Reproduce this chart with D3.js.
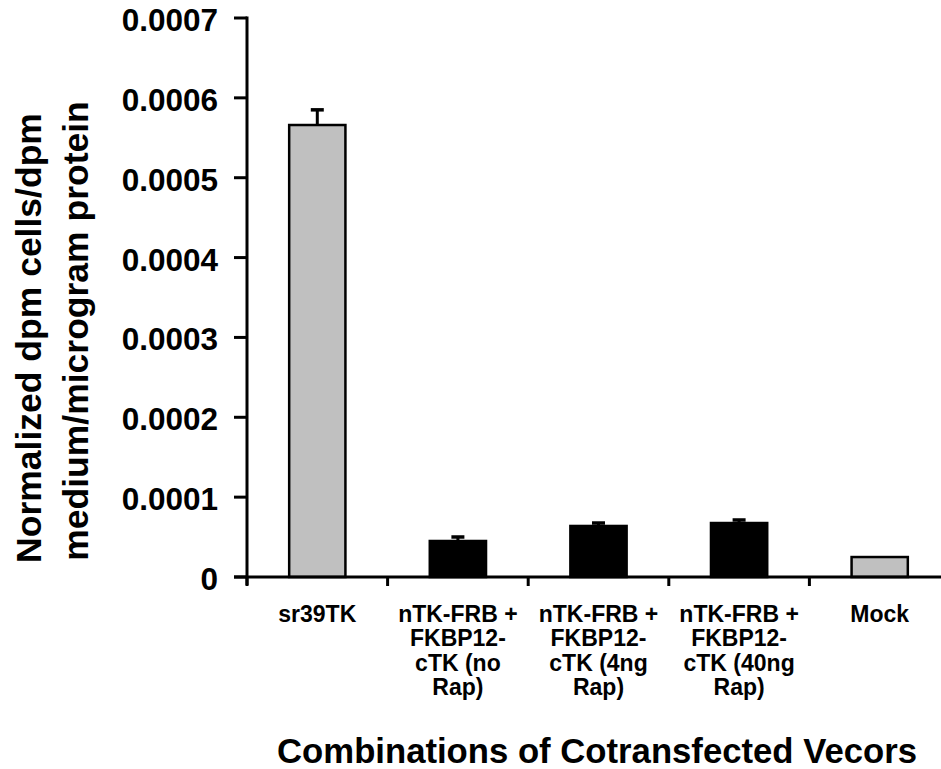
<!DOCTYPE html>
<html><head><meta charset="utf-8">
<script src="https://cdnjs.cloudflare.com/ajax/libs/d3/7.8.5/d3.min.js"></script>
<style>html,body{margin:0;padding:0;background:#fff;overflow:hidden}text{font-family:"Liberation Sans",Arial,sans-serif;font-weight:bold;fill:#000}</style>
</head><body><svg id="c" width="941" height="769"></svg>
<script>
const categories = ["sr39TK", "nTK-FRB + FKBP12- cTK (no Rap)", "nTK-FRB + FKBP12- cTK (4ng Rap)", "nTK-FRB + FKBP12- cTK (40ng Rap)", "Mock"];
const categoryLines = [["sr39TK"], ["nTK-FRB +", "FKBP12-", "cTK (no", "Rap)"], ["nTK-FRB +", "FKBP12-", "cTK (4ng", "Rap)"], ["nTK-FRB +", "FKBP12-", "cTK (40ng", "Rap)"], ["Mock"]];
const values = [0.000566, 0.0000451, 0.0000639, 0.0000676, 0.000025];
const errors = [0.000019, 0.000005, 0.0000037, 0.0000038, 0];
const barColors = ["#c0c0c0", "#000000", "#000000", "#000000", "#c0c0c0"];
const yTicks = [0, 0.0001, 0.0002, 0.0003, 0.0004, 0.0005, 0.0006, 0.0007];
const yTickLabels = ["0", "0.0001", "0.0002", "0.0003", "0.0004", "0.0005", "0.0006", "0.0007"];
const yTitle = ["Normalized dpm cells/dpm", "medium/microgram protein"];
const xTitle = "Combinations of Cotransfected Vecors";

const svg = d3.select("#c");
const x0 = 247, x1 = 950, yTop = 18, yBot = 577;
const x = d3.scaleBand().domain(categories).range([x0, x1]).paddingInner(0.6).paddingOuter(0.3);
const y = d3.scaleLinear().domain([0, 0.0007]).range([yBot, yTop]);

// bars
svg.selectAll("rect.bar").data(categories).join("rect")
  .attr("class","bar")
  .attr("x", d => x(d))
  .attr("y", (d,i) => y(values[i]))
  .attr("width", x.bandwidth())
  .attr("height", (d,i) => yBot - y(values[i]))
  .attr("fill", (d,i) => barColors[i])
  .attr("stroke", "#000").attr("stroke-width", 2.5);

// error bars (upper)
categories.forEach((c,i) => {
  if (!errors[i]) return;
  const cx = x(c) + x.bandwidth()/2;
  svg.append("line").attr("x1",cx).attr("x2",cx).attr("y1",y(values[i])).attr("y2",y(values[i]+errors[i]))
    .attr("stroke","#000").attr("stroke-width",3);
  svg.append("line").attr("x1",cx-6.5).attr("x2",cx+6.5).attr("y1",y(values[i]+errors[i])).attr("y2",y(values[i]+errors[i]))
    .attr("stroke","#000").attr("stroke-width",3.5);
});

// y axis
svg.append("line").attr("x1",x0).attr("x2",x0).attr("y1",yTop-1.5).attr("y2",yBot+8).attr("stroke","#000").attr("stroke-width",3);
yTicks.forEach((t,i) => {
  svg.append("line").attr("x1",x0-13).attr("x2",x0).attr("y1",y(t)).attr("y2",y(t)).attr("stroke","#000").attr("stroke-width",3);
  svg.append("text").attr("x",218).attr("y",y(t)+13).attr("text-anchor","end").attr("font-size",31.5).text(yTickLabels[i]);
});

// x axis
svg.append("line").attr("x1",x0-13).attr("x2",941).attr("y1",yBot).attr("y2",yBot).attr("stroke","#000").attr("stroke-width",3);
categories.forEach((c,i) => {
  const bx = x(c) - x.step()*x.paddingInner()/2;
  svg.append("line").attr("x1",bx).attr("x2",bx).attr("y1",yBot).attr("y2",yBot+9).attr("stroke","#000").attr("stroke-width",3);
  const t = svg.append("text").attr("text-anchor","middle").attr("font-size",23);
  categoryLines[i].forEach((ln,j) => {
    t.append("tspan").attr("x", x(c)+x.bandwidth()/2).attr("y", 622 + j*24.3).text(ln);
  });
});

// titles
svg.append("text").attr("x",597).attr("y",763).attr("text-anchor","middle").attr("font-size",34.7).text(xTitle);
const yTitleCenters = [338, 331];
yTitle.forEach((ln,j) => {
  svg.append("text").attr("transform",`translate(${41+j*47},${yTitleCenters[j]}) rotate(-90)`).attr("text-anchor","middle").attr("font-size",35.5).text(ln);
});
</script></body></html>
